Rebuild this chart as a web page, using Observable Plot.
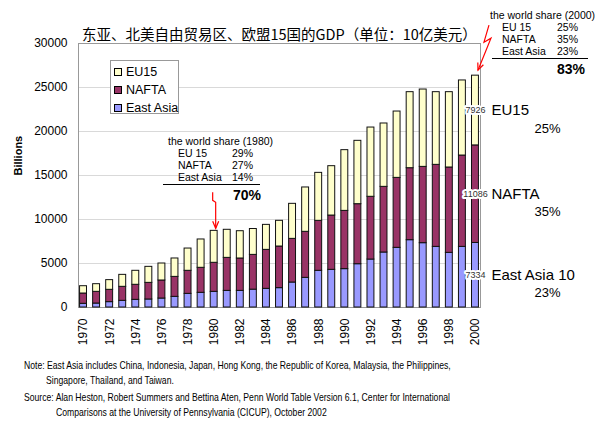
<!DOCTYPE html>
<html><head><meta charset="utf-8">
<script src="https://cdn.jsdelivr.net/npm/d3@7"></script>
<script src="https://cdn.jsdelivr.net/npm/@observablehq/plot@0.6"></script>
<style>
body{margin:0;background:#fff;}
#wrap{position:relative;width:600px;height:425px;overflow:hidden;font-family:"Liberation Sans",Arial,sans-serif;color:#000;}
.abs{position:absolute;white-space:nowrap;}
#chart svg{display:block;}
.note{font-family:"Liberation Sans",Arial,sans-serif;font-size:11px;line-height:14px;transform:scaleX(0.785);transform-origin:0 0;}
.ann{font-size:10.5px;line-height:12px;}
</style></head><body><div id="wrap"><div id="chart"></div></div>
<script>
// ---- data ----
const years = [1970,1971,1972,1973,1974,1975,1976,1977,1978,1979,1980,1981,1982,1983,1984,1985,1986,1987,1988,1989,1990,1991,1992,1993,1994,1995,1996,1997,1998,1999,2000];
const eastAsia = [420,450,610,760,870,910,1020,1210,1550,1670,1780,1890,1890,2030,2120,2200,2840,3370,4170,4280,4360,4920,5450,6250,6780,7650,7310,6890,6210,6890,7334];
const nafta = [1170,1330,1400,1590,1710,1890,2050,2270,2620,2840,3300,3750,3680,3950,4430,4730,4960,5230,5680,6170,6620,6820,7130,7460,7950,8180,8670,9320,9700,10380,11086];
const eu15 = [830,870,1100,1360,1590,1820,1930,2090,2530,3220,3630,3190,3100,2940,2840,2920,3980,5040,5450,5610,6900,7200,7870,7200,7540,8640,8790,8260,8560,8530,7926];
const seriesOrder = ["East Asia","NAFTA","EU15"];
const seriesColors = ["#9999FF","#993366","#FFFFCC"];
const legendOrder = ["EU15","NAFTA","East Asia"];
const rightLabels = ["East Asia 10","NAFTA","EU15"];
const rightShares = ["23%","35%","25%"];
const yTicks = [0,5000,10000,15000,20000,25000,30000];
const xTicks = [1970,1972,1974,1976,1978,1980,1982,1984,1986,1988,1990,1992,1994,1996,1998,2000];
const titleText = "东亚、北美自由贸易区、欧盟15国的GDP（单位：10亿美元）";
const yLabel = "Billions";
const box1980 = {title:"the world share (1980)", names:["EU 15","NAFTA","East Asia"], shares:["29%","27%","14%"], total:"70%"};
const box2000 = {title:"the world share (2000)", names:["EU 15","NAFTA","East Asia"], shares:["25%","35%","23%"], total:"83%"};
const notes = [
  "Note: East Asia includes China, Indonesia, Japan, Hong Kong, the Republic of Korea, Malaysia, the Philippines,",
  "Singapore, Thailand, and Taiwan.",
  "Source: Alan Heston, Robert Summers and Bettina Aten, Penn World Table Version 6.1, Center for International",
  "Comparisons at the University of Pennsylvania (CICUP), October 2002"
];

const seriesValues = {"East Asia": eastAsia, "NAFTA": nafta, "EU15": eu15};
const table = [];
years.forEach((yr, i) => seriesOrder.forEach(s => table.push({year: yr, series: s, value: seriesValues[s][i]})));
const last = table.filter(d => d.year === 2000);
const totalOf = yr => { const i = years.indexOf(yr); return eastAsia[i] + nafta[i] + eu15[i]; };

// zig-zag red arrow pointing at the top of a bar (offsets in px relative to the bar top)
function zigArrow(year, pts) {
  return (index, scales) => {
    const x = scales.x, y = scales.y;
    const bw = typeof x.bandwidth === "function" ? x.bandwidth() : 0;
    const cx = x(year) + bw / 2, cy = y(totalOf(year));
    const P = pts.map(([dx, dy]) => [cx + dx, cy + dy]);
    const g = d3.create("svg:g");
    g.append("path").attr("d", "M" + P.map(p => p.join(",")).join("L"))
      .attr("fill", "none").attr("stroke", "#ff0000").attr("stroke-width", 1.2);
    const [a, b] = [P[P.length - 2], P[P.length - 1]];
    const ang = Math.atan2(b[1] - a[1], b[0] - a[0]);
    const L = 7, W = 3;
    const h1 = [b[0] - L * Math.cos(ang) + W * Math.sin(ang), b[1] - L * Math.sin(ang) - W * Math.cos(ang)];
    const h2 = [b[0] - L * Math.cos(ang) - W * Math.sin(ang), b[1] - L * Math.sin(ang) + W * Math.cos(ang)];
    g.append("path").attr("d", `M${h1.join(",")}L${b.join(",")}L${h2.join(",")}`)
      .attr("fill", "none").attr("stroke", "#ff0000").attr("stroke-width", 1.2);
    return g.node();
  };
}

const chart = Plot.plot({
  width: 600, height: 345,
  marginLeft: 78, marginRight: 120, marginTop: 43, marginBottom: 38,
  style: {fontFamily: "Liberation Sans, Arial, sans-serif", fontSize: "12px", color: "#000", background: "transparent", overflow: "visible"},
  x: {type: "band", domain: years, paddingInner: 0.47, paddingOuter: 0.12, round: false},
  y: {domain: [0, 30000]},
  color: {domain: seriesOrder, range: seriesColors},
  marks: [
    Plot.gridY(yTicks, {stroke: "#d9d9d9", strokeOpacity: 1}),
    Plot.frame({stroke: "#999"}),
    Plot.barY(table, {x: "year", y: "value", fill: "series", stroke: "#111", strokeWidth: 1}),
    Plot.axisY({ticks: yTicks, tickSize: 0, tickPadding: 11, label: null, tickFormat: d3.format("d"), fontSize: 12}),
    Plot.axisX({ticks: xTicks, tickRotate: -90, tickSize: 0, tickPadding: 11, label: null, tickFormat: d => String(d), fontSize: 12}),
    Plot.text([yLabel], {frameAnchor: "left", dx: -60, rotate: -90, fontWeight: "bold", fontSize: 11}),
    Plot.text(last, Plot.stackY({x: "year", y: "value", text: d => String(d.value), fontSize: 9, fill: "#333", stroke: "white", strokeWidth: 4})),
    Plot.text(last, Plot.stackY({x: "year", y: "value", text: d => rightLabels[seriesOrder.indexOf(d.series)], dx: 16, textAnchor: "start", fontSize: 15})),
    Plot.text(last, Plot.stackY({x: "year", y: "value", text: d => rightShares[seriesOrder.indexOf(d.series)], dx: 59, dy: 18, textAnchor: "start", fontSize: 13})),
    zigArrow(1980, [[-1, -38], [-1, -30], [2, -28], [2, -2]]),
    zigArrow(2000, [[14, -50], [9, -33], [16, -37], [3, -5]])
  ]
});
document.getElementById("chart").appendChild(chart);

const wrap = document.getElementById("wrap");
function add(html, style, cls) {
  const d = document.createElement("div");
  d.className = "abs " + (cls || "");
  d.style.cssText = style;
  d.textContent = html;
  wrap.appendChild(d);
  return d;
}
// title
add(titleText, "left:82px;top:24px;font-family:'Noto Sans CJK SC',sans-serif;font-size:14.5px;line-height:20px;");

// legend
const lg = document.createElement("div");
lg.className = "abs";
lg.style.cssText = "left:110px;top:60px;width:67px;height:52px;border:1px solid #999;background:#fff;";
wrap.appendChild(lg);
legendOrder.forEach((s, i) => {
  const row = document.createElement("div");
  row.className = "abs";
  row.style.cssText = `left:3px;top:${3 + i * 18}px;height:16px;line-height:16px;font-size:12.5px;`;
  const sw = document.createElement("span");
  sw.style.cssText = `display:inline-block;width:6px;height:6px;border:1px solid #000;background:${seriesColors[seriesOrder.indexOf(s)]};margin-right:4px;vertical-align:0px;`;
  row.appendChild(sw);
  row.appendChild(document.createTextNode(s));
  lg.appendChild(row);
});

// share boxes
function shareBox(b, o) {
  add(b.title, `left:${o.titleX}px;top:${o.y0 - 6}px;`, "ann");
  b.names.forEach((n, i) => {
    add(n, `left:${o.nameX}px;top:${o.y0 + o.step * (i + 1) - 6}px;`, "ann");
    add(b.shares[i], `left:${o.pctX}px;top:${o.y0 + o.step * (i + 1) - 6}px;`, "ann");
  });
  const r = document.createElement("div");
  r.className = "abs";
  r.style.cssText = `left:${o.ruleX}px;top:${o.ruleY}px;width:${o.ruleW}px;height:0;border-top:1px solid #000;`;
  wrap.appendChild(r);
  add(b.total, `left:${o.totX}px;top:${o.totY - 9}px;font-size:14px;line-height:18px;font-weight:bold;`);
}
shareBox(box1980, {titleX: 168, y0: 141, step: 12, nameX: 178, pctX: 232, ruleX: 163, ruleY: 184, ruleW: 97, totX: 233, totY: 195});
shareBox(box2000, {titleX: 490, y0: 15, step: 12, nameX: 502, pctX: 557, ruleX: 492, ruleY: 58, ruleW: 96, totX: 557, totY: 69});

// notes
add(notes[0], "left:24px;top:358px;", "note");
add(notes[1], "left:46px;top:373px;", "note");
add(notes[2], "left:24px;top:390px;", "note");
add(notes[3], "left:56px;top:405px;", "note");
</script>
</body></html>
